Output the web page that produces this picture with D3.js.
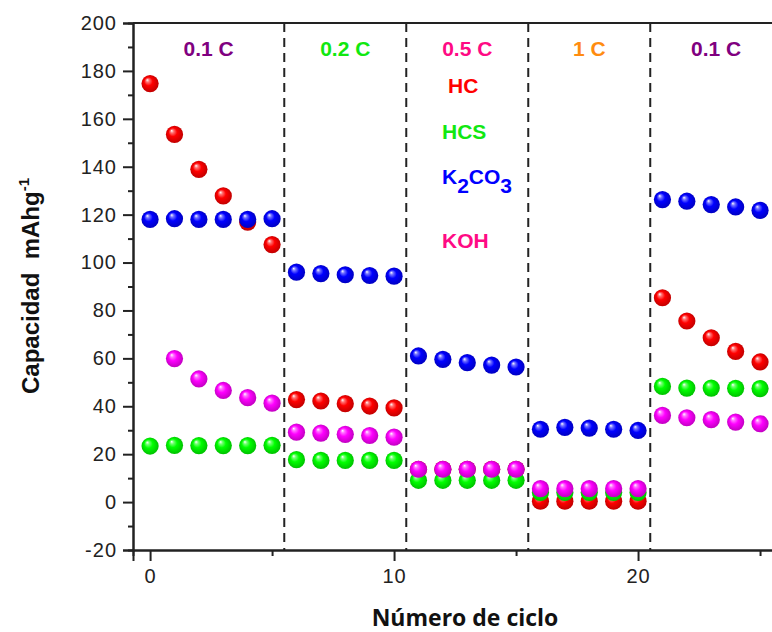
<!DOCTYPE html>
<html>
<head>
<meta charset="utf-8">
<script src="https://cdn.jsdelivr.net/npm/d3@7"></script>
<style>
  body { margin: 0; background: #fff; }
  svg { display: block; }
</style>
</head>
<body>
<svg id="chart" width="772" height="632"></svg>
<script>
// ciclos (eje x)
const cycles = [0, 1, 2, 3, 4, 5, 6, 7, 8, 9, 10, 11, 12, 13, 14, 15, 16, 17, 18, 19, 20, 21, 22, 23, 24, 25];

// capacidad por muestra (mAh/g)
const hc    = [174.7, 153.5, 138.9, 127.8, 116.9, 107.5, 42.8, 42.2, 41.1, 40.1, 39.3, 13.7, 13.7, 13.7, 13.7, 13.7, 0.4, 0.4, 0.4, 0.4, 0.4, 85.3, 75.6, 68.6, 62.9, 58.5];
const hcs   = [23.4, 23.7, 23.6, 23.6, 23.6, 23.7, 17.7, 17.4, 17.4, 17.4, 17.4, 9.1, 9.1, 9.1, 9.1, 9.1, 4.0, 4.0, 4.0, 4.0, 4.0, 48.3, 47.6, 47.6, 47.5, 47.4];
const k2co3 = [118.0, 118.3, 118.0, 118.0, 118.0, 118.3, 96.0, 95.4, 94.9, 94.6, 94.3, 61.0, 59.6, 58.2, 57.2, 56.4, 30.4, 31.2, 30.9, 30.4, 29.9, 126.3, 125.6, 124.2, 123.2, 121.8];
const koh   = [null, 59.9, 51.4, 46.6, 43.6, 41.3, 29.2, 28.8, 28.3, 27.8, 27.1, 13.7, 13.7, 13.7, 13.7, 13.7, 5.6, 5.6, 5.6, 5.6, 5.6, 36.2, 35.2, 34.4, 33.4, 32.7];

// velocidades y cambios de régimen
const rates = ["0.1 C", "0.2 C", "0.5 C", "1 C", "0.1 C"];
const rateColors = ["#800080", "#11e811", "#ff0a84", "#ff8c10", "#800080"];
const rateBreaks = [5.5, 10.5, 15.5, 20.5];

const yTicks = [-20, 0, 20, 40, 60, 80, 100, 120, 140, 160, 180, 200];
const xTicks = [0, 10, 20];

const series = [
    { name: "HC", values: hc, color: "#ff0000", label: "#ff0000" },
    { name: "HCS", values: hcs, color: "#00ff00", label: "#11e811" },
    { name: "K2CO3", values: k2co3, color: "#0000ff", label: "#0000ff" },
    { name: "KOH", values: koh, color: "#ff00ff", label: "#ff0a84" }
];

const svg = d3.select('#chart');
const margens = { left: 133, right: -10, top: 23, bottom: 82 };
const width = 772 - margens.left - margens.right;
const height = 632 - margens.top - margens.bottom;

const x = d3.scaleLinear().domain([-0.7, 25.9]).range([0, width]);
const y = d3.scaleLinear().domain([-20, 200]).range([height, 0]);

const defs = svg.append('defs');
series.forEach((s, i) => {
    const c = d3.color(s.color);
    const g = defs.append('radialGradient')
        .attr('id', 'ball' + i)
        .attr('cx', '50%').attr('cy', '50%').attr('r', '55%')
        .attr('fx', '33%').attr('fy', '28%');
    g.append('stop').attr('offset', '0%').attr('stop-color', '#ffffff');
    g.append('stop').attr('offset', '18%').attr('stop-color', d3.interpolateRgb('#ffffff', s.color)(0.55));
    g.append('stop').attr('offset', '45%').attr('stop-color', s.color);
    g.append('stop').attr('offset', '100%').attr('stop-color', c.darker(0.9));
});

const group = svg.append('g')
    .attr('transform', `translate(${margens.left}, ${margens.top})`);

// líneas discontinuas
group.selectAll('line.brk')
    .data(rateBreaks)
    .enter()
    .append('line')
    .attr('class', 'brk')
    .attr('x1', d => x(d)).attr('x2', d => x(d))
    .attr('y1', 0).attr('y2', height)
    .attr('stroke', '#222')
    .attr('stroke-width', 2)
    .attr('stroke-dasharray', '9,6');

// etiquetas de velocidad
const edges = [x.domain()[0], ...rateBreaks, x.domain()[1]];
group.selectAll('text.rate')
    .data(rates)
    .enter()
    .append('text')
    .attr('class', 'rate')
    .attr('x', (d, i) => x((edges[i] + edges[i + 1]) / 2))
    .attr('y', 33)
    .attr('text-anchor', 'middle')
    .attr('font-family', 'Liberation Sans, Arial, sans-serif')
    .attr('font-weight', 'bold')
    .attr('font-size', 21)
    .attr('fill', (d, i) => rateColors[i])
    .text(d => d);

// puntos
series.forEach((s, i) => {
    const pts = cycles.map((c, j) => ({ c, v: s.values[j] })).filter(d => d.v != null);
    group.append('g')
        .selectAll('circle')
        .data(pts)
        .enter()
        .append('circle')
        .attr('cx', d => x(d.c))
        .attr('cy', d => y(d.v))
        .attr('r', 8.6)
        .attr('fill', `url(#ball${i})`);
});

// leyenda
const legendPos = [[315, 70], [309, 116], [309, 161], [309, 225]];
const legend = group.append('g')
    .attr('font-family', 'Liberation Sans, Arial, sans-serif')
    .attr('font-weight', 'bold')
    .attr('font-size', 21);
series.forEach((s, i) => {
    const t = legend.append('text')
        .attr('x', legendPos[i][0])
        .attr('y', legendPos[i][1])
        .attr('fill', s.label);
    if (s.name === "K2CO3") {
        t.append('tspan').text('K');
        t.append('tspan').attr('dy', 9).text('2');
        t.append('tspan').attr('dy', -9).text('CO');
        t.append('tspan').attr('dy', 9).text('3');
    } else {
        t.text(s.name);
    }
});

// ejes
const yAxis = d3.axisLeft(y).tickValues(yTicks).tickSize(10).tickPadding(6).tickFormat(d => String(d));
const yMinor = d3.axisLeft(y).tickValues(d3.range(-10, 200, 20)).tickSize(5).tickFormat('');
const xAxis = d3.axisBottom(x).tickValues(xTicks).tickSize(11).tickPadding(8).tickFormat(d => String(d));
const xMinor = d3.axisBottom(x).tickValues([5, 15, 25]).tickSize(6).tickFormat('');

group.append('g').call(yAxis);
group.append('g').call(yMinor);
group.append('g').attr('transform', `translate(0, ${height})`).call(xAxis);
group.append('g').attr('transform', `translate(0, ${height})`).call(xMinor);

group.append('line')
    .attr('x1', 0).attr('x2', width)
    .attr('y1', 0).attr('y2', 0)
    .attr('stroke', '#222').attr('stroke-width', 2);

group.selectAll('.domain').attr('stroke', '#222').attr('stroke-width', 2);
group.selectAll('.tick line').attr('stroke', '#222').attr('stroke-width', 2);
group.selectAll('.tick text')
    .attr('fill', '#222')
    .attr('font-family', 'Liberation Sans, Arial, sans-serif')
    .attr('font-size', 20)
    .attr('letter-spacing', 1);

// títulos
svg.append('text')
    .attr('transform', 'translate(39, 286) rotate(-90)')
    .attr('text-anchor', 'middle')
    .attr('font-family', 'Liberation Sans, Arial, sans-serif')
    .attr('font-weight', 'bold')
    .attr('font-size', 24)
    .attr('fill', '#111')
    .call(t => {
        t.append('tspan').text('Capacidad\u00a0\u00a0mAhg');
        t.append('tspan').attr('dy', -10).attr('font-size', 15).text('-1');
    });

svg.append('text')
    .attr('x', 465)
    .attr('y', 626)
    .attr('text-anchor', 'middle')
    .attr('font-family', 'Open Sans, sans-serif')
    .attr('font-weight', 'bold')
    .attr('font-size', 23)
    .attr('fill', '#111')
    .text('Número de ciclo');
</script>
</body>
</html>
